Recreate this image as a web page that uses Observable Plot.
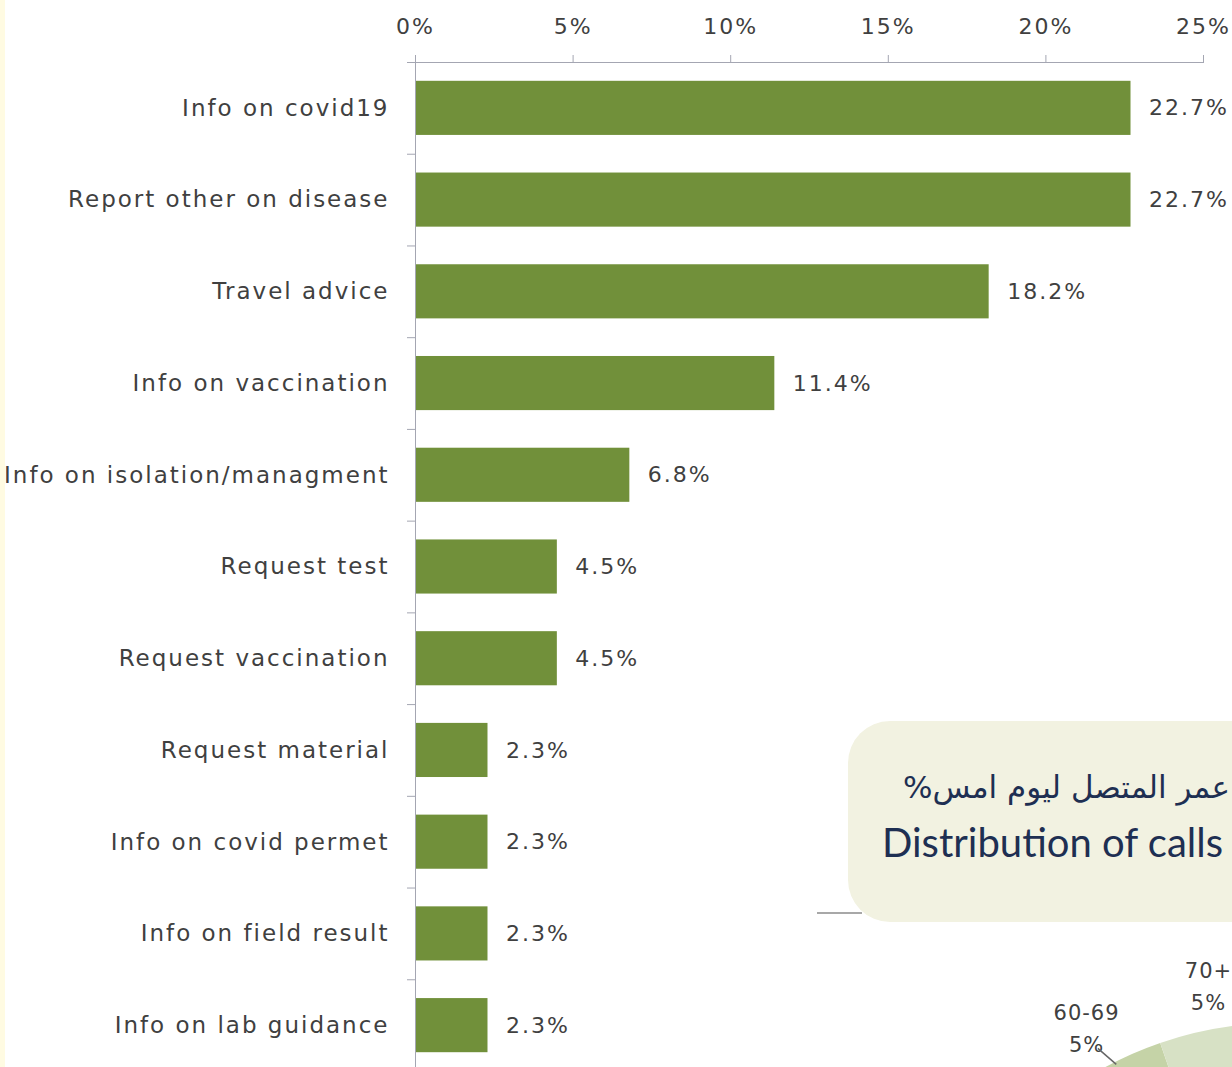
<!DOCTYPE html>
<html>
<head>
<meta charset="utf-8">
<script src="https://cdn.jsdelivr.net/npm/d3@7"></script>
<script src="https://cdn.jsdelivr.net/npm/@observablehq/plot@0.6"></script>
<style>
  html, body { margin: 0; padding: 0; background: #ffffff; overflow: hidden; }
  #page { position: relative; width: 1232px; height: 1067px; overflow: hidden; background: #ffffff; }
  #edge { position: absolute; left: 0; top: 0; width: 5px; height: 1067px; background: #fffbe2; }
  #chart { position: absolute; left: 0; top: 0; }
  #box { position: absolute; left: 848px; top: 721px; width: 460px; height: 201px; border-radius: 42px; background: #f2f2e1; }
  #ar { position: absolute; left: 903px; top: 769px; font-family: "DejaVu Sans", sans-serif; font-size: 31px; direction: rtl; white-space: nowrap; color: #1e2f52; }
  #en { position: absolute; left: 882px; top: 818px; font-family: Lato, sans-serif; font-size: 40px; white-space: nowrap; color: #1e2f52; }
  #stub { position: absolute; left: 817px; top: 912px; width: 45px; height: 2px; background: #a8a8a8; }
  #pie { position: absolute; left: 0; top: 0; }
</style>
</head>
<body>
<div id="page">
  <div id="edge"></div>
  <div id="chart"></div>
  <div id="box"></div>
  <div id="ar">عمر المتصل ليوم امس%</div>
  <div id="en">Distribution of calls</div>
  <div id="stub"></div>
  <svg id="pie" width="1232" height="1067"></svg>
</div>
<script>
// ---- data ----
const categories = [
  "Info on covid19",
  "Report other on disease",
  "Travel advice",
  "Info on vaccination",
  "Info on isolation/managment",
  "Request test",
  "Request vaccination",
  "Request material",
  "Info on covid permet",
  "Info on field result",
  "Info on lab guidance"
];
const shares = [22.7, 22.7, 18.2, 11.4, 6.8, 4.5, 4.5, 2.3, 2.3, 2.3, 2.3];
const xTicks = [0, 5, 10, 15, 20, 25];

const ageGroups = ["60-69", "70+"];
const ageShares = [5, 5];

// ---- bar chart ----
const data = categories.map((c, i) => ({category: c, share: shares[i]}));
const W = 1232, H = 1071, mt = 62, ml = 415, mr = 29, mb = 0;
const step = (H - mt - mb) / categories.length;
const axisColor = "#a4a6b2";
const textColor = "#404040";

const chart = Plot.plot({
  width: W,
  height: H,
  marginTop: mt,
  marginLeft: ml,
  marginRight: mr,
  marginBottom: mb,
  style: {fontFamily: "DejaVu Sans, sans-serif", fontSize: "23px", color: textColor, background: "transparent", letterSpacing: "2px", overflow: "visible"},
  x: {domain: [0, 25], axis: null},
  y: {domain: categories, paddingInner: 0.41, paddingOuter: 0.205, round: false, axis: null},
  marks: [
    Plot.barX(data, {x: "share", y: "category", fill: "#71903a"}),
    Plot.text(data, {x: "share", y: "category", text: d => d.share.toFixed(1) + "%", textAnchor: "start", dx: 18, fill: textColor, fontSize: 22}),
    Plot.axisX({anchor: "top", label: null, ticks: xTicks, tickFormat: d => d + "%", tickSize: 8, tickPadding: 21, stroke: axisColor, fill: textColor, fontSize: 22}),
    Plot.frame({anchor: "top", stroke: axisColor}),
    Plot.ruleX([0], {stroke: axisColor}),
    Plot.axisY({anchor: "left", label: null, tickSize: 0, tickPadding: 26, fill: textColor, fontSize: 23}),
    Plot.axisY({anchor: "left", label: null, tickSize: 8, tickFormat: () => "", stroke: axisColor, dy: -step / 2})
  ]
});
document.getElementById("chart").appendChild(chart);

// ---- partial pie (age distribution) ----
const cx = 1280, cy = 1391, R = 368;
const start = -37 * Math.PI / 180;
const total = d3.sum(ageShares);
const pie = d3.pie().sort(null).value(d => d)
  .startAngle(start).endAngle(start + 2 * Math.PI * total / 100);
const arcs = pie(ageShares);
const arc = d3.arc().innerRadius(0).outerRadius(R);
const labelArc = d3.arc().innerRadius(412).outerRadius(412);
const sliceColors = ["#c5d3a7", "#d7e1c5"];
const svg = d3.select("#pie");
const g = svg.append("g").attr("transform", `translate(${cx},${cy})`);
g.selectAll("path").data(arcs).join("path")
  .attr("d", arc).attr("fill", (d, i) => sliceColors[i]);
const lab = g.selectAll("text").data(arcs).join("text")
  .attr("transform", d => `translate(${labelArc.centroid(d)})`)
  .attr("text-anchor", "middle")
  .attr("font-family", "DejaVu Sans, sans-serif")
  .attr("font-size", 21)
  .attr("letter-spacing", "1px")
  .attr("fill", textColor);
lab.append("tspan").attr("x", 0).attr("dy", "-0.35em").text((d, i) => ageGroups[i]);
lab.append("tspan").attr("x", 0).attr("dy", "1.55em").text(d => d.data + "%");
// leader line for first slice
const a0 = (arcs[0].startAngle + arcs[0].endAngle) / 2;
const p = r => [r * Math.sin(a0), -r * Math.cos(a0)];
g.append("line")
  .attr("x1", p(370)[0] + 10).attr("y1", p(370)[1])
  .attr("x2", p(388)[0]).attr("y2", p(388)[1])
  .attr("stroke", "#666").attr("stroke-width", 1.5);
</script>
</body>
</html>
